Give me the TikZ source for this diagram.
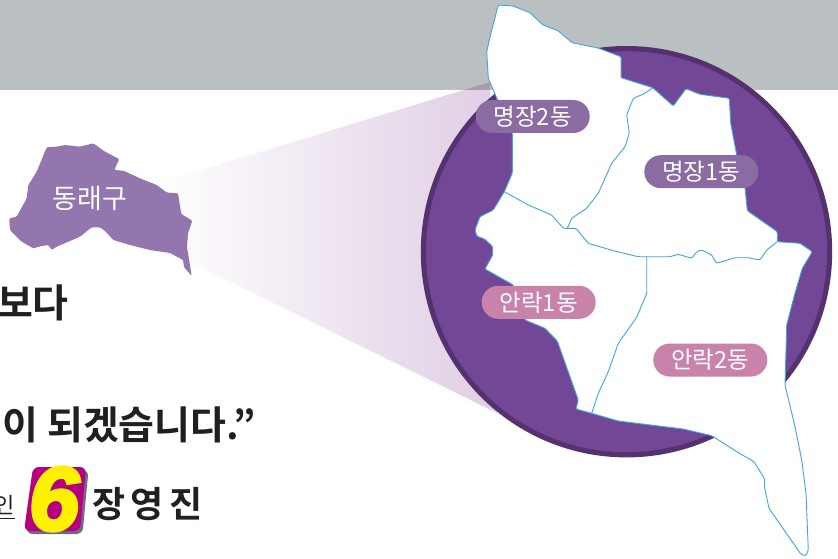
\documentclass[tikz,border=0pt]{standalone}
\usepackage{fontspec}
\setmainfont{Noto Sans CJK KR}
\newfontfamily\krb{Noto Sans CJK KR Bold}
\newfontfamily\sixfont[FakeBold=4]{Liberation Sans Bold Italic}
\definecolor{bandgray}{HTML}{BABFC2}
\definecolor{beamdark}{HTML}{A99CAA}
\definecolor{beammid}{HTML}{EEE5F1}
\definecolor{beamend}{HTML}{DFCEE4}
\definecolor{ringdark}{HTML}{55326F}
\definecolor{discfill}{HTML}{724796}
\definecolor{county}{HTML}{9476AE}
\definecolor{mapline}{HTML}{42A5DC}
\definecolor{pillpurple}{HTML}{8A6CA3}
\definecolor{pillpink}{HTML}{C983AA}
\definecolor{inkdark}{HTML}{231F20}
\definecolor{logomag}{HTML}{B5007F}
\definecolor{logoshadow}{HTML}{6F6A8A}
\definecolor{logoyellow}{HTML}{FFF200}
\tikzset{
  pill/.style={rounded corners=16.5pt,minimum width=114pt,minimum height=33pt,inner sep=0pt,text=white,font=\fontsize{23.5}{23.5}\selectfont},
  headline/.style={text=inkdark,inner sep=0pt,font=\krb\fontsize{39}{39}\selectfont},
  mapedge/.style={draw=mapline,line width=0.9pt,line join=round,rounded corners=1.2pt},
}
\begin{document}
\begin{tikzpicture}[x=1pt,y=-1pt]
\useasboundingbox (0,0) rectangle (838,559);
\clip (0,0) rectangle (838,559);
\fill[bandgray] (0,0) rectangle (838,90);
% beam
\shade[left color=white,middle color=beammid,right color=beamend,shading angle=90,draw=none]
  (155,184) -- (490,82) -- (497,413) -- (190,262) -- cycle;
\begin{scope}
  \clip (300,0) rectangle (520,90);
  \fill[beamdark] (155,184) -- (490,82) -- (497,413) -- (190,262) -- cycle;
\end{scope}
% county
\fill[county,rounded corners=1.2pt] (46.7,147.3) -- (56.7,146.7) -- (65,145) -- (80,146.7) -- (93.3,143.3) -- (105,151.7) -- (119.3,159) -- (114.3,170) -- (123.3,170.7) -- (140,178.3) -- (156.7,185) -- (166.7,192.5) -- (178,193.3) -- (181.3,214) -- (192.3,220.7) -- (188,233) -- (187,247) -- (191.7,276) -- (184,267) -- (183,260) -- (170,253) -- (150,250) -- (130,245) -- (113.3,240) -- (105,231) -- (100,227.3) -- (91.7,227.3) -- (80,236.7) -- (56.7,246.7) -- (51.7,250) -- (48.3,245) -- (41.7,246) -- (33.3,248.3) -- (21.7,241.7) -- (10,230) -- (9.3,218.3) -- (16.7,216.7) -- (26.7,198.3) -- (28.3,185) -- (36.7,171.7) -- cycle;
\node[text=white,inner sep=0pt,font=\fontsize{27}{27}\selectfont] (gu) at (90,198.5) {동래구};
% disc
\fill[ringdark] (626.5,251.7) circle[radius=205.7pt];
\fill[discfill] (626.5,251.7) circle[radius=200.5pt];
% map
\path[mapedge,fill=white] (498.3,5) -- (513,6) -- (530,12.7) -- (543,25) -- (558,30.7) -- (572,42.7) -- (598,48) -- (621,56.7) -- (621,77.7) -- (652.7,87.7) -- (673.3,106) -- (686,88.7) -- (700,94.3) -- (729.3,98.3) -- (730.7,123.3) -- (736.7,155) -- (745,188) -- (747.3,210.7) -- (777.3,231.7) -- (777.3,241.7) -- (800,243.3) -- (812.3,251.7) -- (802.3,268.3) -- (795,293) -- (786.7,325) -- (785,385) -- (795,426.7) -- (801.7,460) -- (806,493.3) -- (808.3,550) -- (806,555.7) -- (801,554.3) -- (769,508.3) -- (764.7,488.3) -- (764.3,478.3) -- (754,461.7) -- (736.7,451.7) -- (711.7,435.7) -- (683.3,429) -- (618.3,421) -- (591.7,413.3) -- (576,409) -- (578.3,400) -- (557.3,341) -- (545,328.3) -- (525,320) -- (513.3,285) -- (485,269) -- (492.7,255) -- (492.7,246.7) -- (485,239.3) -- (476.7,236) -- (475,230) -- (480,216.7) -- (493.3,210) -- (504.3,191.7) -- (512.3,173.3) -- (512.3,133) -- (496.7,98) -- (488.3,78.3) -- (486.7,51.7) -- (491,33) -- cycle;
\draw[mapedge] (504.3,191.7) -- (528.3,205) -- (551.7,215) -- (563.3,228.3) -- (576,228.3) -- (588.3,243.3) -- (613.3,250.7) -- (638.3,256.7) -- (670,256.7) -- (678.3,254.3) -- (691.7,258.3) -- (696.7,251.7) -- (701.7,250) -- (711.7,255) -- (716.7,263.3) -- (735,257.7) -- (748.3,257.7) -- (760,260) -- (766.7,250) -- (777.3,241.7);
\draw[mapedge] (652.7,87.7) -- (645,93.3) -- (633.3,98.3) -- (626.7,115) -- (629.3,133) -- (625,146.7) -- (611.7,163.3) -- (598.3,193.3) -- (586.7,208.3) -- (571.7,218.3) -- (567.3,228.3);
\draw[mapedge] (646.7,256.7) -- (646.7,293.3) -- (636.7,317.3) -- (618.3,343.3) -- (608.3,371.7) -- (598.3,393.3) -- (591.7,413.3);
% pills
\node[pill,fill=pillpurple] (m2) at (532.7,116.5) {명장2동};
\node[pill,fill=pillpurple] (m1) at (701.3,171.7) {명장1동};
\node[pill,fill=pillpink] (a1) at (538.7,302.3) {안락1동};
\node[pill,fill=pillpink] (a2) at (710.3,360) {안락2동};
% left text
\node[headline,anchor=east] (h1) at (69,303) {보다};
\node[headline,anchor=east] (h2) at (256,425) {이 되겠습니다.”};
\node[text=inkdark,inner sep=0pt,anchor=east,font=\fontsize{22}{22}\selectfont] (in) at (15,505) {인};
\coordinate (ua) at (0,518);
\coordinate (ub) at (15,518);
\draw[inkdark,line width=0.8pt] (ua) -- (ub);
% logo
\fill[logoshadow,rounded corners=6pt] (35.5,470) -- (88.5,470) -- (82.5,534) -- (26.5,534) -- cycle;
\fill[logomag,rounded corners=6pt] (33,467) -- (86,467) -- (80,531) -- (24,531) -- cycle;
\node[text=logoyellow,inner sep=0pt,font=\sixfont\fontsize{90}{90}\selectfont] (six) at (54,499) {6};
\node[text=inkdark,inner sep=0pt,anchor=west,font=\krb\fontsize{36}{36}\selectfont] (name) at (92,504) {장\hspace{5.5pt}영\hspace{5.5pt}진};
\end{tikzpicture}
\end{document}
